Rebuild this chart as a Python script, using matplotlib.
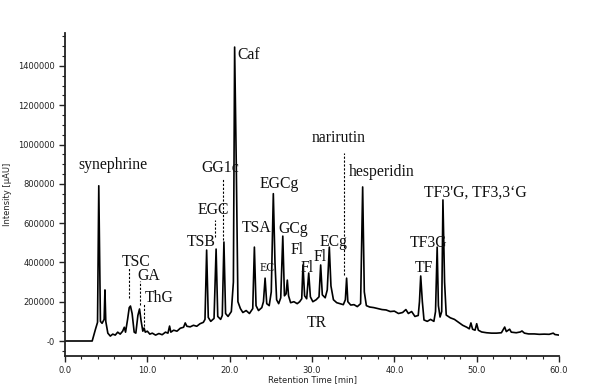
import matplotlib
matplotlib.use("Agg")
import matplotlib.pyplot as plt
from matplotlib.ticker import MultipleLocator, FixedLocator, FuncFormatter

# chromatogram trace: retention time [min], intensity [uAU]
rt = [0.0, 3.3, 3.7, 3.95, 4.1, 4.3, 4.5, 4.75, 4.85, 4.95, 5.2, 5.5, 5.8, 6.1, 6.4,
      6.7, 7.0, 7.2, 7.35, 7.6, 7.8, 7.95, 8.15, 8.4, 8.6, 8.85, 9.05, 9.25, 9.45, 9.6,
      9.75, 10.0, 10.3, 10.6, 11.0, 11.4, 11.8, 12.2, 12.5, 12.7, 12.85, 13.2, 13.6, 14.0,
      14.4, 14.6, 14.8, 15.2, 15.6, 16.0, 16.4, 16.8, 17.0, 17.2, 17.4, 17.7, 18.1, 18.35,
      18.55, 18.9, 19.1, 19.3, 19.5, 19.8, 20.2, 20.45, 20.6, 20.8, 21.0, 21.3, 21.6, 22.0,
      22.4, 22.8, 23.0, 23.2, 23.5, 23.9, 24.1, 24.3, 24.5, 24.8, 25.05, 25.3, 25.5, 25.7,
      25.95, 26.2, 26.45, 26.65, 26.85, 27.0, 27.15, 27.4, 27.8, 28.2, 28.5, 28.75, 28.9,
      29.1, 29.35, 29.6, 29.8, 30.1, 30.5, 30.85, 31.05, 31.25, 31.6, 31.85, 32.1, 32.3,
      32.6, 33.0, 33.4, 33.8, 34.05, 34.2, 34.35, 34.7, 35.1, 35.5, 35.9, 36.15, 36.35,
      36.6, 37.0, 37.5, 38.0, 38.5, 39.0, 39.5, 40.0, 40.5, 41.0, 41.4, 41.7, 42.1, 42.5,
      42.9, 43.05, 43.2, 43.4, 43.6, 44.0, 44.4, 44.8, 45.0, 45.2, 45.35, 45.55, 45.75,
      45.9, 46.1, 46.3, 46.8, 47.3, 47.8, 48.3, 48.8, 49.1, 49.3, 49.5, 49.8, 50.0, 50.2,
      50.6, 51.2, 51.8, 52.4, 53.0, 53.4, 53.6, 54.0, 54.2, 54.8, 55.3, 55.5, 55.8, 56.3,
      57.0, 57.6, 58.2, 58.8, 59.3, 59.5, 60.0]
intensity = [0, 0, 60000, 95000, 790000, 100000, 90000, 110000, 260000, 100000, 40000,
             25000, 35000, 30000, 45000, 35000, 50000, 70000, 45000, 110000, 170000, 178000,
             140000, 45000, 40000, 130000, 163000, 100000, 50000, 66000, 45000, 50000, 35000,
             40000, 30000, 38000, 32000, 45000, 40000, 76000, 45000, 55000, 50000, 65000,
             70000, 92000, 75000, 72000, 80000, 75000, 88000, 95000, 110000, 463000, 120000,
             100000, 115000, 468000, 125000, 110000, 130000, 504000, 140000, 125000, 150000,
             300000, 1496000, 900000, 200000, 165000, 145000, 155000, 140000, 165000, 478000,
             180000, 155000, 170000, 200000, 320000, 190000, 180000, 250000, 750000, 400000,
             210000, 190000, 220000, 534000, 230000, 240000, 310000, 230000, 195000, 200000,
             190000, 200000, 215000, 387000, 230000, 215000, 346000, 225000, 200000, 210000,
             225000, 387000, 235000, 220000, 260000, 478000, 280000, 210000, 195000, 190000,
             185000, 210000, 320000, 200000, 183000, 185000, 175000, 190000, 784000, 250000,
             180000, 173000, 170000, 165000, 160000, 158000, 150000, 152000, 140000, 145000,
             160000, 140000, 150000, 125000, 130000, 200000, 331000, 200000, 107000, 100000,
             110000, 100000, 150000, 478000, 180000, 122000, 150000, 718000, 300000, 132000,
             118000, 110000, 95000, 80000, 70000, 62000, 92000, 60000, 55000, 88000, 55000,
             46000, 42000, 40000, 40000, 42000, 71000, 48000, 60000, 45000, 42000, 46000,
             51000, 40000, 36000, 36000, 34000, 35000, 34000, 40000, 33000, 30000]

# peak labels: text, time, intensity
labels = ["synephrine", "TSC", "GA", "ThG", "TSB", "EGC", "GG1c", "TSA", "EC", "EGCg",
          "GCg", "Fl", "Fl", "Fl", "ECg", "narirutin", "hesperidin", "TF3G", "TF",
          "TF3'G, TF3,3\u2018G", "TR"]
label_t = [5.83, 8.62, 10.2, 11.4, 16.5, 18.0, 18.8, 23.3, 24.5, 26.0,
           27.7, 28.2, 29.4, 31.0, 32.55, 33.2, 38.5, 44.1, 43.6, 49.8, 30.6]
label_y = [896000, 402000, 331000, 219000, 504000, 667000, 880000, 575000, 372000, 799000,
           570000, 463000, 372000, 428000, 504000, 1033000, 860000, 499000, 372000, 753000,
           92000]

# dashed leader lines: time, top, bottom
lead_t = [7.77, 9.11, 9.6, 18.2, 19.2, 33.9]
lead_top = [372000, 305000, 193000, 616000, 825000, 957000]
lead_bot = [219000, 183000, 56000, 529000, 514000, 336000]

fig = plt.figure(figsize=(5.9, 3.87), dpi=100)
ax = fig.add_axes([0.1102, 0.0801, 0.8373, 0.8346])

ax.plot(rt, intensity, color="black", lw=1.2)

for t, top, bot in zip(lead_t, lead_top, lead_bot):
    ax.plot([t, t], [bot, top], color="black", lw=0.8, ls=(0, (2, 1.5)))

for txt, t, y in zip(labels, label_t, label_y):
    fs = 8.5 if txt == "EC" else 11.3
    ax.text(t, y, txt, ha="center", va="center", fontsize=fs,
            family="Liberation Serif", color="#111111")
ax.text(20.9, 1456000, "Caf", ha="left", va="center", fontsize=11.3,
        family="Liberation Serif", color="#111111")

ax.set_xlim(0, 60)
ax.set_ylim(-76350, 1567700)

ax.xaxis.set_major_locator(MultipleLocator(10))
ax.xaxis.set_minor_locator(MultipleLocator(2))
ax.xaxis.set_major_formatter(FuncFormatter(lambda v, p: f"{v:.1f}"))
ax.yaxis.set_major_locator(FixedLocator([0, 200000, 400000, 600000, 800000,
                                         1000000, 1200000, 1400000]))
ax.yaxis.set_minor_locator(MultipleLocator(50000))
ax.yaxis.set_major_formatter(FuncFormatter(lambda v, p: "-0" if v == 0 else f"{int(v)}"))

for side in ["top", "right"]:
    ax.spines[side].set_visible(False)
for side in ["left", "bottom"]:
    ax.spines[side].set_linewidth(1.3)
    ax.spines[side].set_color("#222222")

ax.tick_params(which="major", direction="out", length=4, width=1.0, labelsize=6,
               colors="#222222", pad=3)
ax.tick_params(which="minor", direction="out", length=2.5, width=0.8, colors="#222222")

fig.canvas.draw()
xt = ax.get_xticklabels()
xt[0].set_ha("left")
xt[-1].set_ha("right")

ax.set_xlabel("Retention Time [min]", fontsize=6, labelpad=0, color="#222222")
ax.set_ylabel("Intensity [\u00b5AU]", fontsize=6, labelpad=5, color="#222222")

fig.savefig("out.png", dpi=100)
